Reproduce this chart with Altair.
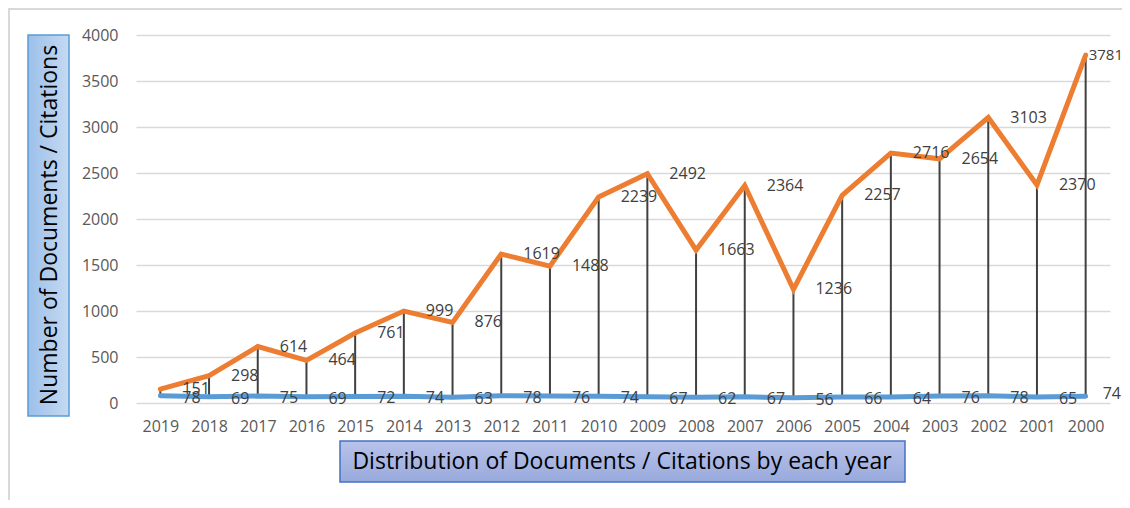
import altair as alt
import pandas as pd

years = [2019, 2018, 2017, 2016, 2015, 2014, 2013, 2012, 2011, 2010,
         2009, 2008, 2007, 2006, 2005, 2004, 2003, 2002, 2001, 2000]
citations = [151, 298, 614, 464, 761, 999, 876, 1619, 1488, 2239,
             2492, 1663, 2364, 1236, 2257, 2716, 2654, 3103, 2370, 3781]
documents = [78, 69, 75, 69, 72, 74, 63, 78, 76, 74,
             67, 62, 67, 56, 66, 64, 76, 78, 65, 74]

df = pd.DataFrame({
    "idx": list(range(len(years))),
    "year": years,
    "citations": citations,
    "documents": documents,
})

FONT = "Open Sans"
W, H = 974, 368

xs = alt.Scale(domain=[-0.5, 19.5], nice=False, zero=False)
ys = alt.Scale(domain=[0, 4000], nice=False)

base = alt.Chart(df)

xaxis = alt.Axis(values=list(range(20)), labelExpr="2019 - datum.value",
                 grid=False, ticks=False, domain=False, labelFontSize=16,
                 labelColor="#595959", labelFont=FONT, labelPadding=15,
                 title=None)
yaxis = alt.Axis(values=[0, 500, 1000, 1500, 2000, 2500, 3000, 3500, 4000],
                 format="d",
                 grid=True, gridColor="#d9d9d9", gridWidth=1.5,
                 ticks=False, domain=False, labelFontSize=16,
                 labelColor="#595959", labelFont=FONT, labelPadding=18,
                 title=None)

drops = base.mark_rule(color="#404040", strokeWidth=2).encode(
    x=alt.X("idx:Q", scale=xs, axis=xaxis),
    y=alt.Y("citations:Q", scale=ys, axis=yaxis),
    y2="documents:Q",
)

cit_line = base.mark_line(color="#ED7D31", strokeWidth=5, strokeCap="round").encode(
    x=alt.X("idx:Q", scale=xs),
    y=alt.Y("citations:Q", scale=ys),
)
doc_line = base.mark_line(color="#5B9BD5", strokeWidth=5, strokeCap="round").encode(
    x=alt.X("idx:Q", scale=xs),
    y=alt.Y("documents:Q", scale=ys),
)

cit_lab = base.transform_filter("datum.idx < 19").mark_text(
    fontSize=16, color="#404040", font=FONT, align="left", baseline="middle", dx=22
).encode(
    x=alt.X("idx:Q", scale=xs),
    y=alt.Y("citations:Q", scale=ys),
    text="citations:Q",
)
cit_lab_last = base.transform_filter("datum.idx == 19").mark_text(
    fontSize=15, color="#404040", font=FONT, align="left", baseline="middle", dx=3
).encode(
    x=alt.X("idx:Q", scale=xs),
    y=alt.Y("citations:Q", scale=ys),
    text="citations:Q",
)
doc_lab = base.transform_filter("datum.idx < 19").mark_text(
    fontSize=16, color="#404040", font=FONT, align="left", baseline="middle", dx=22, dy=2
).encode(
    x=alt.X("idx:Q", scale=xs),
    y=alt.Y("documents:Q", scale=ys),
    text="documents:Q",
)
doc_lab_last = base.transform_filter("datum.idx == 19").mark_text(
    fontSize=16, color="#404040", font=FONT, align="left", baseline="middle", dx=17, dy=-2
).encode(
    x=alt.X("idx:Q", scale=xs),
    y=alt.Y("documents:Q", scale=ys),
    text="documents:Q",
)

one = alt.Chart(pd.DataFrame({"a": [0]}))

outer = one.mark_rect(fill="transparent", stroke="#d9d9d9", strokeWidth=2).encode(
    x=alt.value(-127), x2=alt.value(1010), y=alt.value(-26), y2=alt.value(480)
)

ybox = one.mark_rect(
    fill=alt.Gradient(gradient="linear",
                      stops=[alt.GradientStop(color="#9cc0ea", offset=0),
                             alt.GradientStop(color="#c5d9f1", offset=1)],
                      x1=0, x2=1, y1=0, y2=0),
    stroke="#5B9BD5", strokeWidth=1.5,
).encode(x=alt.value(-108), x2=alt.value(-67), y=alt.value(0), y2=alt.value(381))

ytitle = one.mark_text(text="Number of Documents / Citations", angle=270,
                       fontSize=23, font=FONT, color="#000000",
                       align="center", baseline="middle").encode(
    x=alt.value(-86), y=alt.value(190)
)

xbox = one.mark_rect(
    fill=alt.Gradient(gradient="linear",
                      stops=[alt.GradientStop(color="#b8c3ea", offset=0),
                             alt.GradientStop(color="#98a9dc", offset=1)],
                      x1=0, x2=0, y1=0, y2=1),
    stroke="#4472C4", strokeWidth=1.5,
).encode(x=alt.value(204), x2=alt.value(769), y=alt.value(406), y2=alt.value(447))

xtitle = one.mark_text(text="Distribution of Documents / Citations by each year",
                       fontSize=23, font=FONT, color="#000000",
                       align="center", baseline="middle").encode(
    x=alt.value(486), y=alt.value(427)
)

chart = alt.layer(
    outer, drops, doc_line, cit_line, cit_lab, cit_lab_last, doc_lab, doc_lab_last,
    ybox, ytitle, xbox, xtitle
).properties(
    width=W, height=H,
    autosize=alt.AutoSizeParams(type="none"),
    padding={"left": 128, "top": 27, "right": 12, "bottom": 97},
).configure_view(stroke=None)

chart.save("out.html", embed_options={"renderer": "svg", "actions": False})
